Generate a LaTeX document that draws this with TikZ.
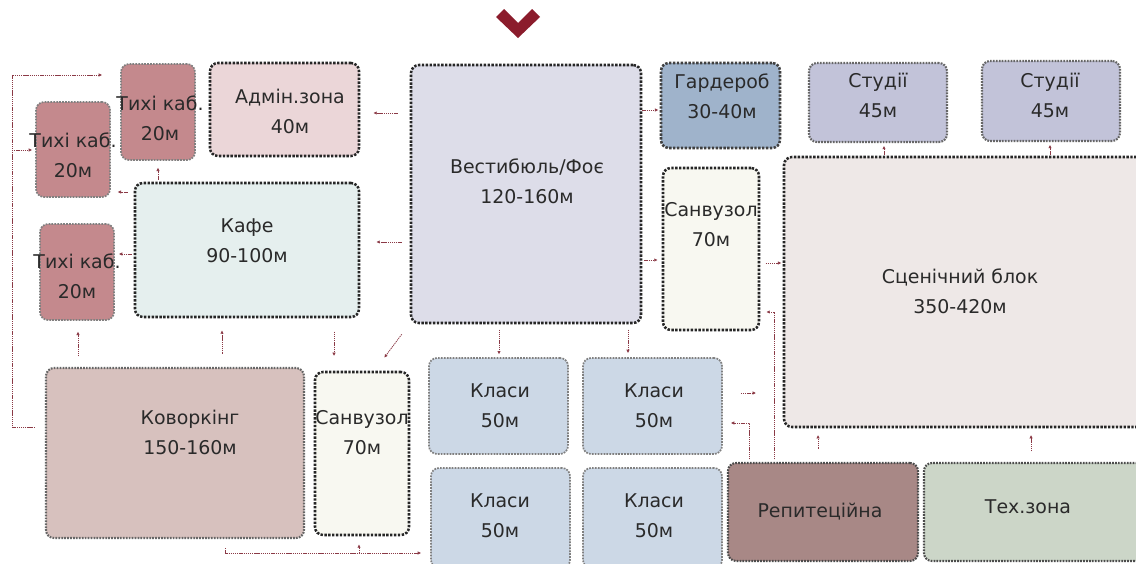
\documentclass[tikz,border=0pt]{standalone}
\usepackage{fontspec}
\setmainfont{DejaVu Sans}
\usetikzlibrary{fit,arrows.meta,calc}
\definecolor{cTixi}{HTML}{C4898D}
\definecolor{cAdmin}{HTML}{EBD6D8}
\definecolor{cCafe}{HTML}{E5EFEE}
\definecolor{cVest}{HTML}{DDDDE9}
\definecolor{cGard}{HTML}{9FB3CB}
\definecolor{cStud}{HTML}{C2C3D9}
\definecolor{cSan}{HTML}{F8F8F1}
\definecolor{cScene}{HTML}{EEE8E7}
\definecolor{cCow}{HTML}{D7C1BE}
\definecolor{cKl}{HTML}{CCD8E6}
\definecolor{cRep}{HTML}{A88886}
\definecolor{cTech}{HTML}{CCD6C8}
\definecolor{cConn}{HTML}{8B3A46}
\definecolor{cChev}{HTML}{8B1C2C}
\definecolor{cTxt}{HTML}{2A2A2A}
\begin{document}
\begin{tikzpicture}[x=0.75pt,y=-0.75pt,
  zone/.style={inner sep=0pt, rounded corners=6pt, line width=1.9pt,
    dash pattern=on 1.8pt off 1.1pt},
  darkzone/.style={zone, draw=black!85},
  grayzone/.style={zone, draw=black!50, line width=1.3pt, dash pattern=on 1.3pt off 0.9pt},
  lbl/.style={align=center, text=cTxt, font=\fontsize{14.2}{22.5}\selectfont},
  conn/.style={draw=cConn, line width=0.55pt, dash pattern=on 1pt off 0.6pt,
    -{Latex[length=2.6pt,width=2.6pt]}}]
\useasboundingbox (0,0) rectangle (1136,564);
\fill[white] (0,0) rectangle (1136,564);
% chevron
\fill[cChev] (496,17) -- (504,9) -- (518,23) -- (532,9) -- (540,17) -- (518,38) -- cycle;
% zones
\node[grayzone, fill=cTixi, fit={(121,64) (195,160)}] (t1) {};
\node[grayzone, fill=cTixi, fit={(36,102) (110,197)}] (t2) {};
\node[grayzone, fill=cTixi, fit={(40,224) (114,320)}] (t3) {};
\node[darkzone, fill=cAdmin, fit={(210,63) (359,156)}] (admin) {};
\node[darkzone, fill=cCafe, fit={(135,183) (359,317)}] (cafe) {};
\node[darkzone, fill=cVest, fit={(411,65) (641,323)}] (vest) {};
\node[darkzone, draw=black!75, fill=cGard, fit={(661,63) (780,148)}] (gard) {};
\node[grayzone, draw=black!60, line width=1.6pt, fill=cStud, fit={(809,63) (947,142)}] (st1) {};
\node[grayzone, draw=black!60, line width=1.6pt, fill=cStud, fit={(982,61) (1120,141)}] (st2) {};
\node[darkzone, fill=cSan, fit={(663,168) (759,330)}] (sanR) {};
\node[darkzone, fill=cScene, fit={(784,157) (1160,427)}] (scene) {};
\node[grayzone, draw=black!60, line width=1.6pt, fill=cCow, fit={(46,368) (304,538)}] (cow) {};
\node[darkzone, fill=cSan, fit={(315,372) (409,535)}] (sanL) {};
\node[grayzone, fill=cKl, fit={(429,358) (568,454)}] (k1) {};
\node[grayzone, fill=cKl, fit={(583,358) (722,454)}] (k2) {};
\node[grayzone, fill=cKl, fit={(431,468) (570,568)}] (k3) {};
\node[grayzone, fill=cKl, fit={(583,468) (722,568)}] (k4) {};
\node[grayzone, draw=black!70, line width=1.6pt, fill=cRep, fit={(728,463) (918,561)}] (rep) {};
\node[grayzone, draw=black!70, line width=1.6pt, fill=cTech, fit={(924,463) (1160,561)}] (tech) {};
% labels
\node[lbl] (t1l) at (160,118) {Тихі каб.\\20м};
\node[lbl] (t2l) at (73,155) {Тихі каб.\\20м};
\node[lbl] (t3l) at (77,276) {Тихі каб.\\20м};
\node[lbl] (adminl) at (290,111) {Адмін.зона\\40м};
\node[lbl] (cafel) at (247,241) {Кафе\\90-100м};
\node[lbl] (vestl) at (527,181) {Вестибюль/Фоє\\120-160м};
\node[lbl] (gardl) at (722,96) {Гардероб\\30-40м};
\node[lbl] (st1l) at (878,95) {Студії\\45м};
\node[lbl] (st2l) at (1050,95) {Студії\\45м};
\node[lbl] (sanRl) at (711,225) {Санвузол\\70м};
\node[lbl] (scenel) at (960,291) {Сценічний блок\\350-420м};
\node[lbl] (cowl) at (190,432) {Коворкінг\\150-160м};
\node[lbl] (sanLl) at (362,433) {Санвузол\\70м};
\node[lbl] (k1l) at (500,406) {Класи\\50м};
\node[lbl] (k2l) at (654,406) {Класи\\50м};
\node[lbl] (k3l) at (500,516) {Класи\\50м};
\node[lbl] (k4l) at (654,516) {Класи\\50м};
\node[lbl] (repl) at (820,512) {Репитеційна};
\node[lbl] (techl) at (1028,507) {Тех.зона};
% connectors
\draw[conn, shorten <=9pt, shorten >=9.75pt] (vest.west |- 0,113) -- (admin.east |- 0,113);
\draw[conn, shorten <=6pt, shorten >=12pt] (vest.west |- 0,242) -- (cafe.east |- 0,242);
\draw[conn, shorten <=1.5pt, shorten >=5pt] (cafe.north -| 158,0) -- (t1.south -| 158,0);
\draw[conn, shorten <=4.5pt, shorten >=5pt] (cafe.west |- 0,192) -- (t2.east |- 0,192);
\draw[conn, shorten <=1.5pt, shorten >=3pt] (cafe.west |- 0,254) -- (t3.east |- 0,254);
\draw[conn, shorten <=8pt, shorten >=8pt] (cow.north -| 78,0) -- (t3.south -| 78,0);
\draw[conn, shorten <=10pt, shorten >=9pt] (cow.north -| 222,0) -- (cafe.south -| 222,0);
\draw[conn, shorten <=10pt, shorten >=11pt] (cafe.south -| 334,0) -- (sanL.north -| 334,0);
\draw[conn] ([shift={(-8,10)}]vest.south west) -- ([shift={(-26,-13)}]sanL.north east);
\draw[conn, shorten <=4pt, shorten >=2pt] (vest.south -| 499,0) -- (k1.north -| 499,0);
\draw[conn, shorten <=4pt, shorten >=3pt] (vest.south -| 628,0) -- (k2.north -| 628,0);
\draw[conn, shorten >=1pt] (vest.east |- 0,110) -- (gard.west |- 0,110);
\draw[conn, shorten <=1.5pt, shorten >=3pt] (vest.east |- 0,260) -- (sanR.west |- 0,260);
\draw[conn, shorten <=4pt, shorten >=1pt] (sanR.east |- 0,263) -- (scene.west |- 0,263);
\draw[conn, shorten <=2pt, shorten >=4.5pt] (rep.north -| 774,0) |- (sanR.east |- 0,312);
\draw[conn, shorten <=2pt, shorten >=6pt] (rep.north -| 749,0) |- (k2.east |- 0,423);
\draw[conn, shorten <=13.5pt, shorten >=20pt] (k2.east |- 0,393) -- (scene.west |- 0,393);
\draw[conn, shorten <=10pt, shorten >=5pt] (rep.north -| 818,0) -- (scene.south -| 818,0);
\draw[conn, shorten <=8pt, shorten >=5pt] (tech.north -| 1031,0) -- (scene.south -| 1031,0);
\draw[conn, shorten <=0.75pt, shorten >=2pt] (scene.north -| 884,0) -- (st1.south -| 884,0);
\draw[conn, shorten <=0.75pt, shorten >=2pt] (scene.north -| 1050,0) -- (st2.south -| 1050,0);
\coordinate (lft) at (12,75);
\draw[conn, shorten <=7.5pt, shorten >=13.5pt] (cow.west |- 0,427) -| (lft) -- (t1.west |- lft);
\draw[conn, shorten >=2.25pt] (lft |- 0,150) -- (t2.west |- 0,150);
\coordinate (bt) at (359,553);
\draw[conn, shorten <=6.75pt, shorten >=6.75pt] (cow.south -| 225,0) |- (k3.west |- bt);
\draw[conn, shorten >=6pt] (bt) -- (sanL.south -| bt);
\end{tikzpicture}
\end{document}
